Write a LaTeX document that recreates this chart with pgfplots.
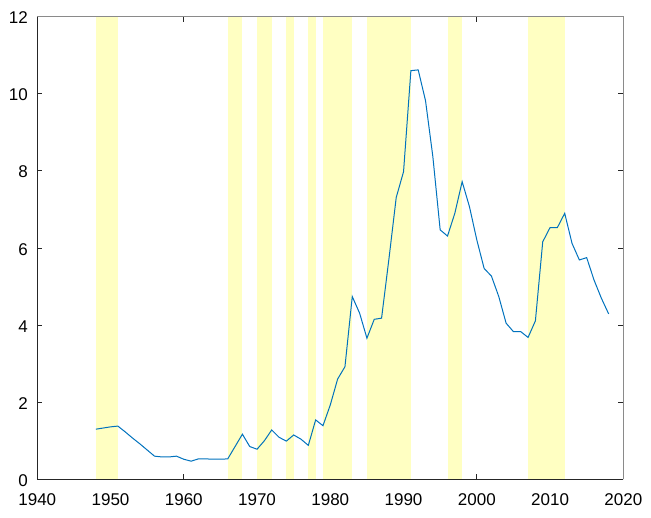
\documentclass[border=0pt]{standalone}
\usepackage{pgfplots}
\pgfplotsset{compat=1.18}
\usepackage{fontspec}
\setmainfont{Liberation Sans}
\definecolor{bandyellow}{HTML}{FFFFC2}
\definecolor{mblue}{HTML}{0072BD}
\definecolor{axdark}{HTML}{262626}
\definecolor{axgray}{HTML}{8A8A8A}
\begin{document}
\begin{tikzpicture}[x=1pt,y=1pt]
\useasboundingbox (-37.3pt,-38.7pt) rectangle (613.7pt,479.3pt);
\begin{axis}[
  at={(0,0)}, anchor=south west,
  scale only axis, width=586pt, height=462.6pt,
  xmin=1940, xmax=2020, ymin=0, ymax=12,
  xtick={1940,1950,...,2020}, ytick={0,2,...,12},
  axis line style={draw=none},
  tick style={color=axdark, line width=0.8pt},
  major tick length=5pt,
  tick align=inside,
  /pgf/number format/assume math mode=true,
  /pgf/number format/1000 sep={},
  tick label style={font=\fontsize{17}{20}\selectfont, color=black, inner sep=0pt},
  xticklabel style={yshift=-14pt},
  yticklabel style={xshift=-9.3pt, yshift=-1.2pt},
  clip=false,
]
% shaded periods
\addplot[fill=bandyellow, draw=none] coordinates {(1948,0)(1948,12)(1951,12)(1951,0)} -- cycle;
\addplot[fill=bandyellow, draw=none] coordinates {(1966,0)(1966,12)(1968,12)(1968,0)} -- cycle;
\addplot[fill=bandyellow, draw=none] coordinates {(1970,0)(1970,12)(1972,12)(1972,0)} -- cycle;
\addplot[fill=bandyellow, draw=none] coordinates {(1974,0)(1974,12)(1975,12)(1975,0)} -- cycle;
\addplot[fill=bandyellow, draw=none] coordinates {(1977,0)(1977,12)(1978,12)(1978,0)} -- cycle;
\addplot[fill=bandyellow, draw=none] coordinates {(1979,0)(1979,12)(1983,12)(1983,0)} -- cycle;
\addplot[fill=bandyellow, draw=none] coordinates {(1985,0)(1985,12)(1991,12)(1991,0)} -- cycle;
\addplot[fill=bandyellow, draw=none] coordinates {(1996,0)(1996,12)(1998,12)(1998,0)} -- cycle;
\addplot[fill=bandyellow, draw=none] coordinates {(2007,0)(2007,12)(2012,12)(2012,0)} -- cycle;
% series
\addplot[color=mblue, line width=1pt, mark=none] coordinates {
(1948,1.30)(1949,1.33)(1950,1.36)(1951,1.38)(1952,1.23)(1953,1.07)(1954,0.92)(1955,0.76)
(1956,0.60)(1957,0.58)(1958,0.58)(1959,0.60)(1960,0.52)(1961,0.47)(1962,0.53)(1963,0.53)
(1964,0.52)(1965,0.52)(1966,0.53)(1967,0.85)(1968,1.17)(1969,0.85)(1970,0.78)(1971,1.00)
(1972,1.28)(1973,1.09)(1974,0.99)(1975,1.15)(1976,1.04)(1977,0.88)(1978,1.54)(1979,1.39)
(1980,1.93)(1981,2.60)(1982,2.92)(1983,4.74)(1984,4.31)(1985,3.66)(1986,4.15)(1987,4.18)
(1988,5.71)(1989,7.31)(1990,7.98)(1991,10.60)(1992,10.62)(1993,9.82)(1994,8.37)(1995,6.47)
(1996,6.31)(1997,6.90)(1998,7.72)(1999,7.07)(2000,6.21)(2001,5.47)(2002,5.27)(2003,4.74)
(2004,4.05)(2005,3.83)(2006,3.83)(2007,3.68)(2008,4.11)(2009,6.16)(2010,6.53)(2011,6.53)
(2012,6.90)(2013,6.12)(2014,5.69)(2015,5.75)(2016,5.17)(2017,4.70)(2018,4.29)
};
% axis box
\draw[axgray, line width=1pt] (rel axis cs:0,1) -- (rel axis cs:1,1) -- (rel axis cs:1,0);
\draw[axdark, line width=1pt] (rel axis cs:0,1) -- (rel axis cs:0,0) -- (rel axis cs:1,0);
\end{axis}
\end{tikzpicture}
\end{document}
